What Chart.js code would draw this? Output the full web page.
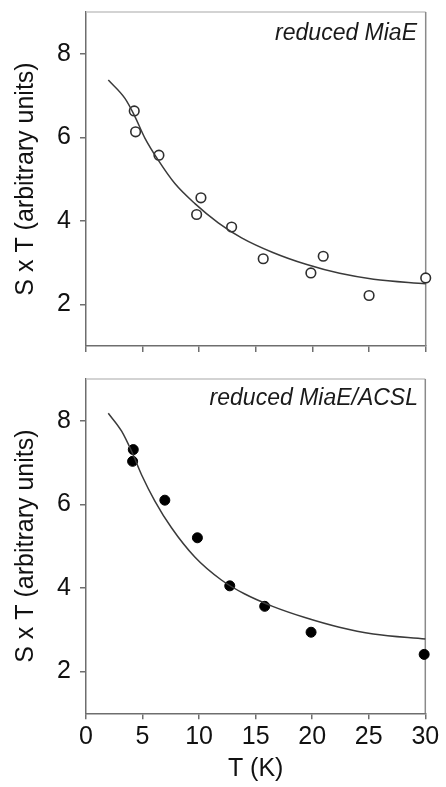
<!DOCTYPE html>
<html>
<head>
<meta charset="utf-8">
<script src="https://cdn.jsdelivr.net/npm/chart.js@4.4.1/dist/chart.umd.min.js"></script>
<style>
  html, body { margin: 0; padding: 0; background: #fff; }
  body { width: 446px; height: 787px; position: relative; overflow: hidden; }
  canvas { position: absolute; left: 0; display: block; }
  #panelTop { top: 0; }
  #panelBottom { top: 372px; }
</style>
</head>
<body>
<canvas id="panelTop" width="446" height="372"></canvas>
<canvas id="panelBottom" width="446" height="415"></canvas>
<script>
// Temperature axis ticks and S x T axis ticks
const tempTicks = [0, 5, 10, 15, 20, 25, 30];
const sxtTicks = [2, 4, 6, 8];

// Reduced MiaE: measured points (open circles)
const miaeTemp = [4.26, 4.38, 6.44, 9.77, 10.15, 12.86, 15.65, 19.86, 20.95, 25.0, 30.0];
const miaeSxT  = [6.63, 6.13, 5.57, 4.15, 4.55, 3.85, 3.09, 2.75, 3.15, 2.21, 2.63];
// Reduced MiaE: fitted curve
const miaeFitTemp = [1.97, 3.44, 4.26, 5.2, 6.38, 7.85, 9.62, 11.68, 13.74, 16.5, 19.5, 22.4, 25.4, 30.0];
const miaeFitSxT  = [7.37, 6.93, 6.53, 5.98, 5.45, 4.89, 4.41, 3.95, 3.59, 3.24, 2.95, 2.74, 2.60, 2.49];

// Reduced MiaE/ACSL: measured points (filled circles)
const acslTemp = [4.12, 4.18, 6.97, 9.85, 12.71, 15.8, 19.9, 29.9];
const acslSxT  = [7.03, 7.31, 6.10, 5.20, 4.05, 3.56, 2.94, 2.41];
// Reduced MiaE/ACSL: fitted curve
const acslFitTemp = [1.97, 3.15, 4.03, 4.91, 6.09, 7.56, 9.62, 11.97, 14.0, 16.5, 19.5, 22.4, 25.4, 30.0];
const acslFitSxT  = [8.18, 7.75, 7.27, 6.71, 6.08, 5.44, 4.74, 4.19, 3.86, 3.56, 3.28, 3.06, 2.90, 2.78];

const FONT = "'Liberation Sans', Arial, Helvetica, sans-serif";
const AXIS_GREY = '#6e6e6e';

function toXY(xs, ys) {
  return xs.map((x, i) => ({ x: x, y: ys[i] }));
}

// Light frame along the top and right of the plot area, plus the italic panel label
const framePlugin = {
  id: 'panelFrame',
  beforeDatasetsDraw(chart) {
    const { ctx, chartArea: a } = chart;
    ctx.save();
    ctx.lineWidth = 1.5;
    ctx.strokeStyle = '#c4c4c4';
    ctx.beginPath();
    ctx.moveTo(a.left, a.top);
    ctx.lineTo(a.right, a.top);
    ctx.stroke();
    ctx.strokeStyle = '#8a8a8a';
    ctx.beginPath();
    ctx.moveTo(a.right, a.top);
    ctx.lineTo(a.right, a.bottom);
    ctx.stroke();
    ctx.restore();
  },
  afterDraw(chart, args, opts) {
    const { ctx, chartArea: a } = chart;
    ctx.save();
    ctx.font = 'italic 23px ' + FONT;
    ctx.fillStyle = '#1a1a1a';
    ctx.textAlign = 'right';
    ctx.textBaseline = 'alphabetic';
    ctx.fillText(opts.label, a.right - opts.dx, a.top + opts.dy);
    ctx.restore();
  }
};

function makePanel(canvasId, cfg) {
  return new Chart(document.getElementById(canvasId), {
    type: 'scatter',
    data: {
      datasets: [
        {
          type: 'line',
          data: toXY(cfg.fitT, cfg.fitY),
          borderColor: '#3a3a3a',
          borderWidth: 1.5,
          pointRadius: 0,
          fill: false,
          cubicInterpolationMode: 'monotone',
          clip: false
        },
        {
          data: toXY(cfg.ptT, cfg.ptY),
          pointRadius: cfg.filled ? 5 : 4.8,
          pointBorderWidth: cfg.filled ? 1 : 1.6,
          pointBorderColor: cfg.filled ? '#000' : '#2e2e2e',
          pointBackgroundColor: cfg.filled ? '#000' : '#fff',
          showLine: false,
          clip: false
        }
      ]
    },
    options: {
      responsive: false,
      animation: false,
      devicePixelRatio: 1,
      layout: { padding: { top: cfg.padTop, right: cfg.padRight, left: 0, bottom: 0 } },
      plugins: {
        legend: { display: false },
        tooltip: { enabled: false },
        panelFrame: { label: cfg.label, dx: cfg.labelDx, dy: cfg.labelDy }
      },
      scales: {
        x: {
          type: 'linear',
          min: 0,
          max: 30,
          afterBuildTicks: s => { s.ticks = tempTicks.map(v => ({ value: v })); },
          afterFit: s => {
            s.height = cfg.xHeight;
            s.paddingLeft = 0;
            s.paddingRight = 0;
          },
          grid: { drawOnChartArea: false, drawTicks: true, tickLength: 6, color: AXIS_GREY, lineWidth: 1.5 },
          border: { display: true, color: AXIS_GREY, width: 1.5 },
          ticks: {
            display: cfg.showXLabels,
            padding: 3,
            color: '#111',
            font: { family: FONT, size: 25 },
            maxRotation: 0
          },
          title: {
            display: cfg.showXLabels,
            text: 'T (K)',
            color: '#111',
            font: { family: FONT, size: 25, lineHeight: 1.2 },
            padding: { top: 0, bottom: 3 }
          }
        },
        y: {
          type: 'linear',
          min: 1,
          max: 9,
          afterBuildTicks: s => { s.ticks = sxtTicks.map(v => ({ value: v })); },
          afterFit: s => {
            s.width = 86;
            s.paddingTop = 0;
            s.paddingBottom = 0;
          },
          grid: { drawOnChartArea: false, drawTicks: true, tickLength: 6, color: AXIS_GREY, lineWidth: 1.5 },
          border: { display: true, color: AXIS_GREY, width: 1.5 },
          ticks: {
            padding: 9,
            color: '#111',
            font: { family: FONT, size: 25 }
          },
          title: {
            display: true,
            text: 'S x T (arbitrary units)',
            color: '#111',
            font: { family: FONT, size: 25, lineHeight: 1.2 },
            padding: { top: 11.5, bottom: 0 }
          }
        }
      }
    },
    plugins: [framePlugin]
  });
}

makePanel('panelTop', {
  fitT: miaeFitTemp, fitY: miaeFitSxT,
  ptT: miaeTemp, ptY: miaeSxT,
  filled: false,
  label: 'reduced MiaE', labelDx: 8.7, labelDy: 28,
  padTop: 12, padRight: 20.3,
  xHeight: 26, showXLabels: false
});

makePanel('panelBottom', {
  fitT: acslFitTemp, fitY: acslFitSxT,
  ptT: acslTemp, ptY: acslSxT,
  filled: true,
  label: 'reduced MiaE/ACSL', labelDx: 7.3, labelDy: 26,
  padTop: 7, padRight: 20.7,
  xHeight: 73.7, showXLabels: true
});
</script>
</body>
</html>
